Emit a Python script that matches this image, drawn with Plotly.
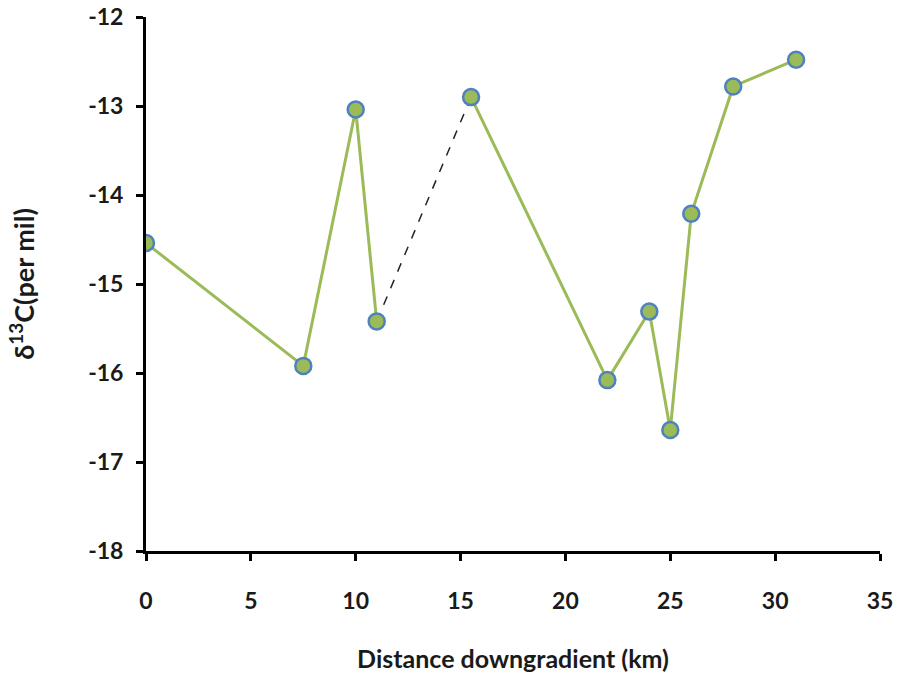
import plotly.graph_objects as go

# Distance downgradient (km) and delta-13C (per mil) of sampled wells
distance = [0, 7.5, 10, 11, 15.5, 22, 24, 25, 26, 28, 31]
delta13c = [-14.54, -15.92, -13.04, -15.42, -12.90, -16.08, -15.31, -16.64, -14.21, -12.78, -12.48]

# Solid line runs for the two continuous segments, dashed link between them
seg1 = slice(0, 4)
seg2 = slice(4, 11)

x_ticks = [0, 5, 10, 15, 20, 25, 30, 35]
y_ticks = [-18, -17, -16, -15, -14, -13, -12]

green = "#9BBB59"
blue = "#4F81BD"
font = "Lato"
ink = "#1a1a1a"

fig = go.Figure()
fig.add_trace(go.Scatter(x=distance[seg1], y=delta13c[seg1], mode="lines",
                         line=dict(color=green, width=3), hoverinfo="skip"))
fig.add_trace(go.Scatter(x=[distance[3], distance[4]], y=[delta13c[3], delta13c[4]],
                         mode="lines", line=dict(color="#222222", width=1.5, dash="dash"),
                         hoverinfo="skip"))
fig.add_trace(go.Scatter(x=distance[seg2], y=delta13c[seg2], mode="lines",
                         line=dict(color=green, width=3), hoverinfo="skip"))
fig.add_trace(go.Scatter(x=distance, y=delta13c, mode="markers",
                         marker=dict(size=16, color=green, line=dict(color=blue, width=2.5))))

fig.update_layout(
    width=898, height=679,
    margin=dict(l=146, r=18, t=17, b=128),
    plot_bgcolor="white", paper_bgcolor="white",
    showlegend=False,
    font=dict(family=font, color=ink, size=23),
    xaxis=dict(
        range=[0, 35], tickvals=x_ticks, ticktext=[str(v) for v in x_ticks],
        automargin=False,
        showgrid=False, zeroline=False, showline=True, linecolor="black", linewidth=3,
        ticks="outside", ticklen=7, tickwidth=3, tickcolor="black",
        ticklabelstandoff=20,
        tickfont=dict(family=font, size=23, color=ink, weight="bold"),
        title=dict(text="<b>Distance downgradient (km)</b>", standoff=38,
                   font=dict(family=font, size=25)),
    ),
    yaxis=dict(
        range=[-18, -12], tickvals=y_ticks, ticktext=[str(v) for v in y_ticks],
        automargin=False,
        showgrid=False, zeroline=False, showline=True, linecolor="black", linewidth=3,
        ticks="outside", ticklen=7, tickwidth=3, tickcolor="black",
        ticklabelstandoff=8,
        tickfont=dict(family=font, size=23, color=ink, weight="bold"),
        title=dict(text="<b>δ<sup>13</sup>C(per mil)</b>", standoff=46,
                   font=dict(family=font, size=27)),
    ),
)

fig.write_html("out.html")
